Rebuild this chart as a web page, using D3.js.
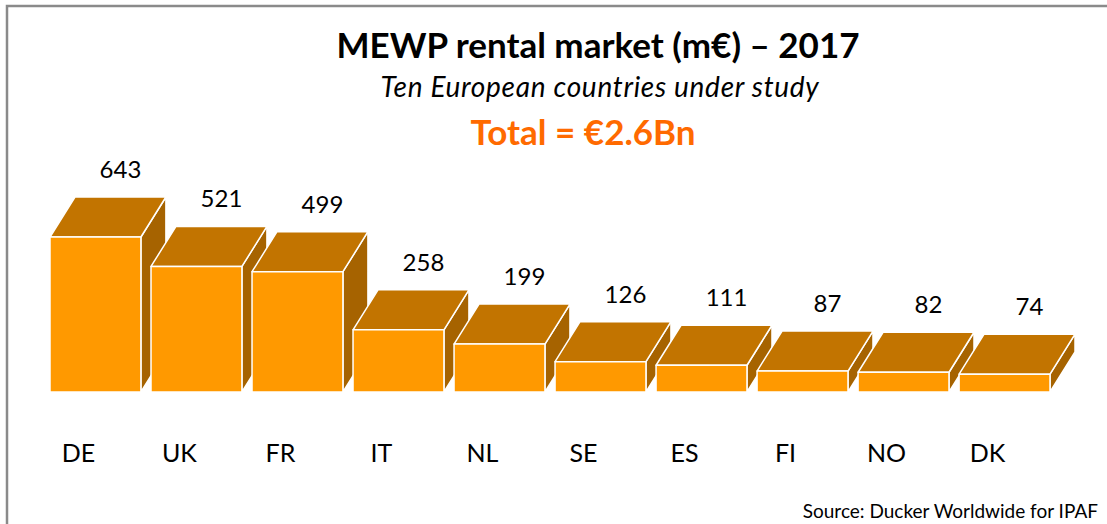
<!DOCTYPE html>
<html>
<head>
<meta charset="utf-8">
<style>
body { margin: 0; background: #fff; }
text { font-family: Lato, "Open Sans", sans-serif; }
.face { stroke: #fff; stroke-width: 1.5; stroke-linejoin: round; }
.front { fill: #ff9900; }
.top { fill: #c27400; }
.side { fill: #a66300; }
</style>
</head>
<body>
<svg width="1107" height="524"></svg>
<script src="https://d3js.org/d3.v7.min.js"></script>
<script>
// values (m€)
var countries = ["DE", "UK", "FR", "IT", "NL", "SE", "ES", "FI", "NO", "DK"];
var rental = [643, 521, 499, 258, 199, 126, 111, 87, 82, 74];

var svg = d3.select("svg");

// depth of the fake 3d box
var dx = 25, dy = 40;

var x = d3.scaleBand()
  .domain(countries)
  .range([50, 1050])
  .paddingInner(0.1)
  .paddingOuter(0);

var y = d3.scaleLinear()
  .domain([0, 643])
  .range([392, 237]);

// frame round the chart
svg.append("rect")
  .attr("x", 7).attr("y", 6)
  .attr("width", 1120).attr("height", 540)
  .attr("fill", "none")
  .attr("stroke", "#8a8a8a")
  .attr("stroke-width", 2.5);

svg.append("text")
  .attr("x", 598).attr("y", 58)
  .attr("text-anchor", "middle")
  .attr("font-size", 35).attr("font-weight", "bold")
  .text("MEWP rental market (m€) – 2017");

svg.append("text")
  .attr("x", 600).attr("y", 97)
  .attr("text-anchor", "middle")
  .attr("font-size", 28).attr("font-style", "italic")
  .attr("letter-spacing", 0.7)
  .text("Ten European countries under study");

svg.append("text")
  .attr("x", 583).attr("y", 145)
  .attr("text-anchor", "middle")
  .attr("font-size", 35).attr("font-weight", "bold")
  .attr("fill", "#ff6a00")
  .text("Total = €2.6Bn");

var data = countries.map(function(c, i) { return {name: c, value: rental[i]}; });

var bar = svg.append("g")
  .selectAll("g")
  .data(data)
  .enter().append("g");

function pts(p) { return p.map(function(d) { return d.join(","); }).join(" "); }

bar.append("polygon")
  .attr("class", "face side")
  .attr("points", function(d) {
    var x1 = x(d.name) + x.bandwidth(), y0 = y(0), y1 = y(d.value);
    return pts([[x1, y1], [x1 + dx, y1 - dy], [x1 + dx, y0 - dy], [x1, y0]]);
  });

bar.append("polygon")
  .attr("class", "face top")
  .attr("points", function(d) {
    var x0 = x(d.name), x1 = x0 + x.bandwidth(), y1 = y(d.value);
    return pts([[x0, y1], [x0 + dx, y1 - dy], [x1 + dx, y1 - dy], [x1, y1]]);
  });

bar.append("rect")
  .attr("class", "face front")
  .attr("x", function(d) { return x(d.name); })
  .attr("y", function(d) { return y(d.value); })
  .attr("width", x.bandwidth())
  .attr("height", function(d) { return y(0) - y(d.value); });

bar.append("text")
  .attr("x", function(d) { return x(d.name) + x.bandwidth() / 2 + dx; })
  .attr("y", function(d) { return y(d.value) - dy - 19; })
  .attr("text-anchor", "middle")
  .attr("font-size", 24)
  .text(function(d) { return d.value; });

bar.append("text")
  .attr("x", function(d) { return x(d.name) + x.bandwidth() / 2 - 17; })
  .attr("y", 462)
  .attr("text-anchor", "middle")
  .attr("font-size", 25)
  .text(function(d) { return d.name; });

svg.append("text")
  .attr("x", 1098).attr("y", 518)
  .attr("text-anchor", "end")
  .attr("font-size", 19)
  .text("Source: Ducker Worldwide for IPAF");
</script>
</body>
</html>
